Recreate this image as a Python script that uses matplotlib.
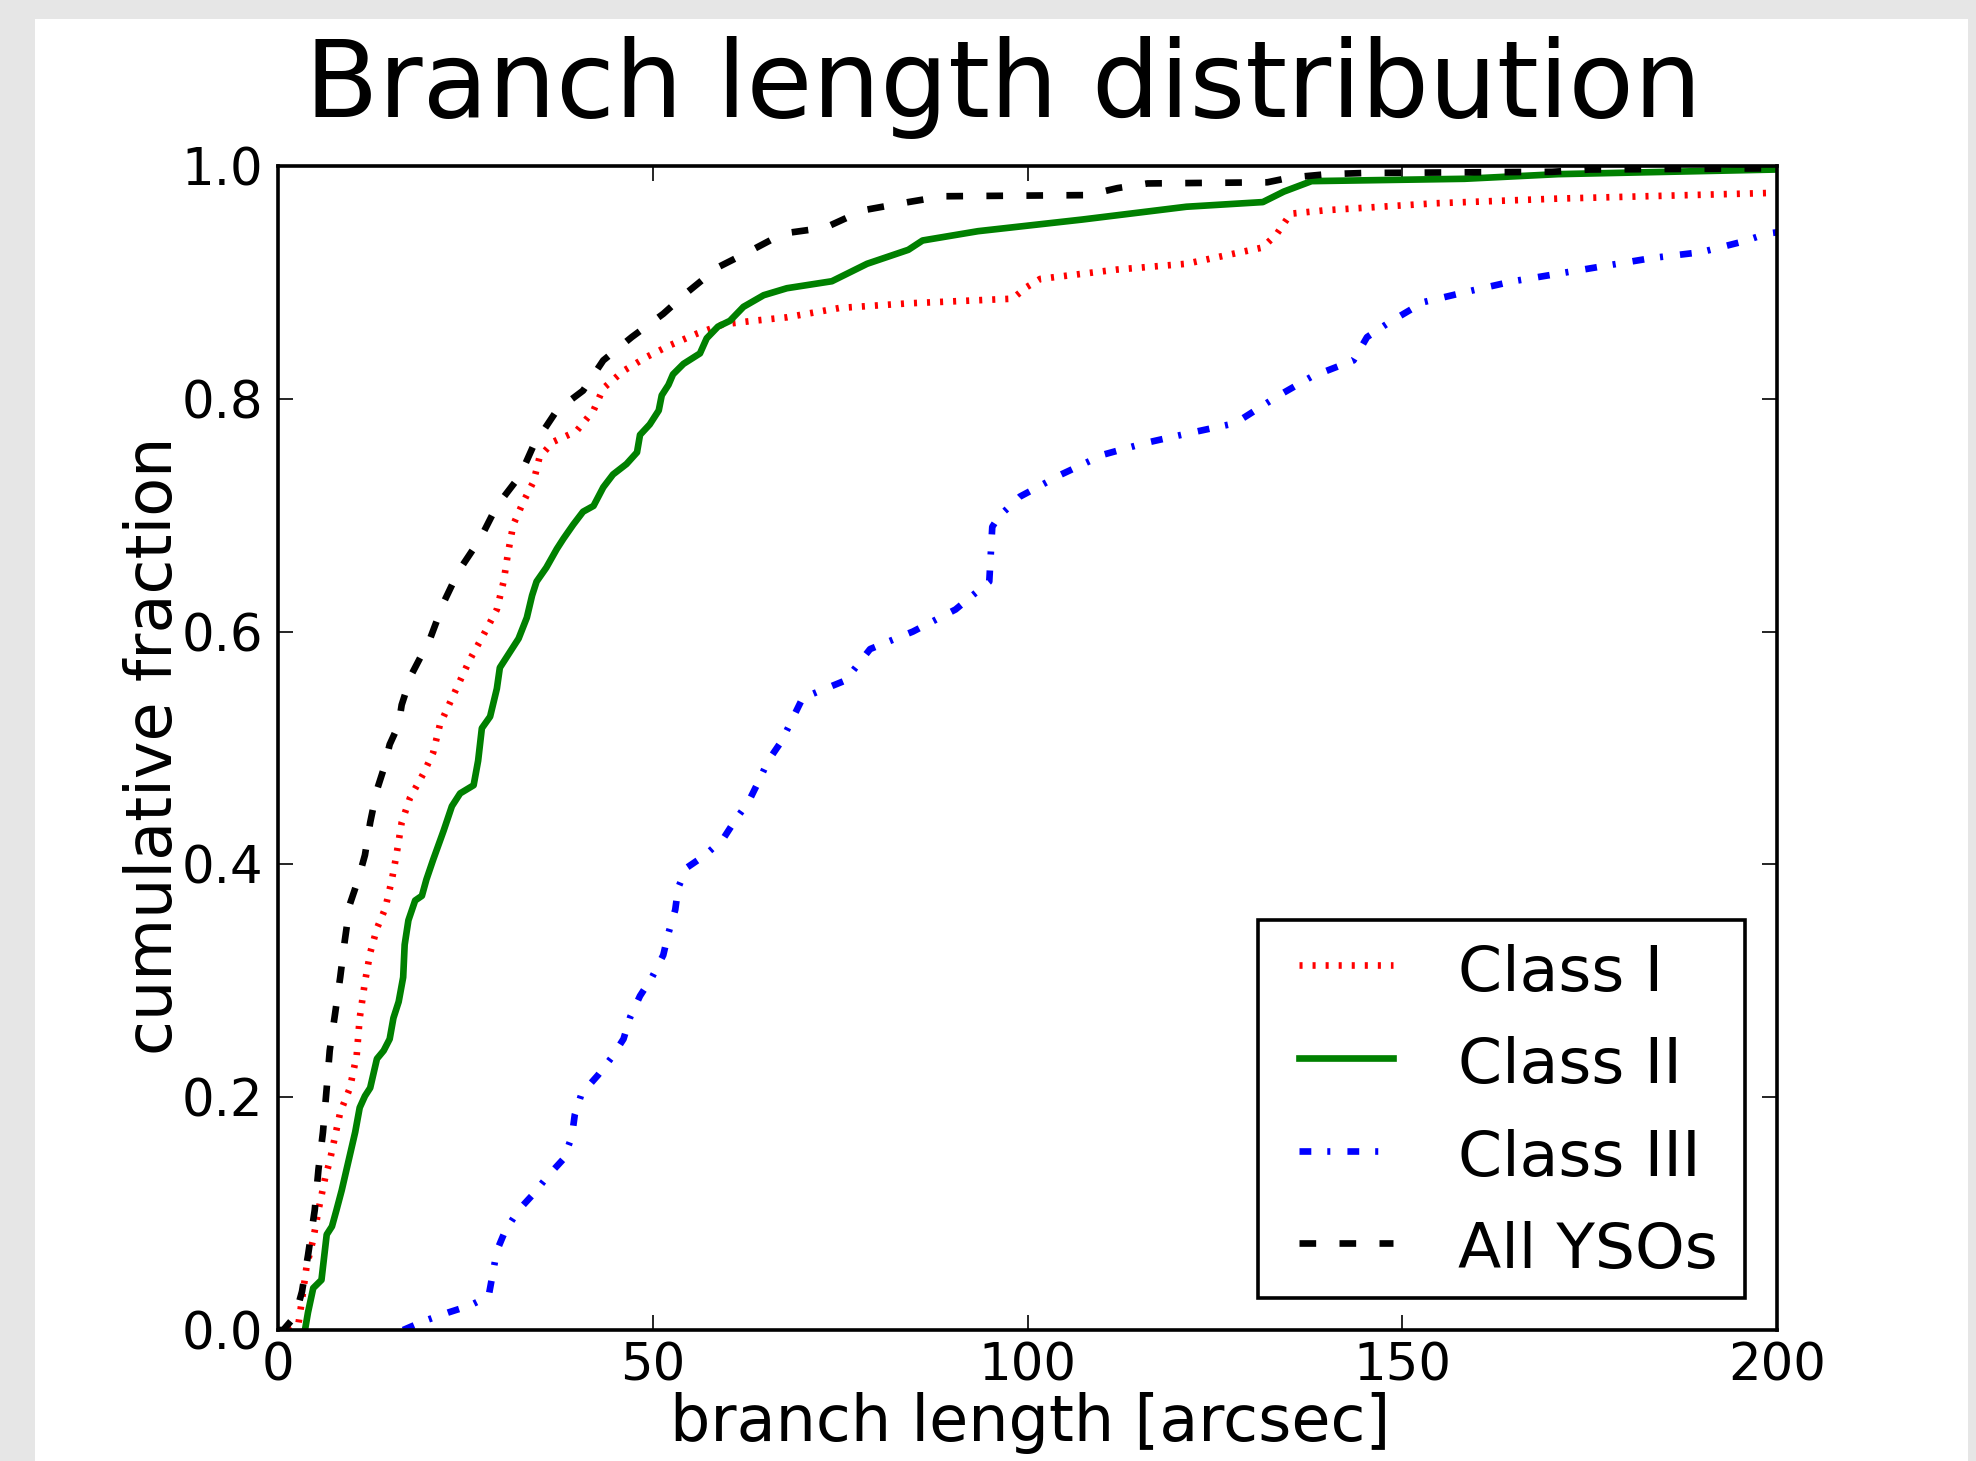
import matplotlib
matplotlib.use("Agg")
import matplotlib.pyplot as plt
from matplotlib.patches import Rectangle
from matplotlib.lines import Line2D
from matplotlib.legend_handler import HandlerLine2D

# ---------------- data ----------------
title_text = "Branch length distribution"
xlabel_text = "branch length [arcsec]"
ylabel_text = "cumulative fraction"
series_labels = ["Class I", "Class II", "Class III", "All YSOs"]
xticks = [0, 50, 100, 150, 200]
yticks = [0.0, 0.2, 0.4, 0.6, 0.8, 1.0]

class1_x = [1.5, 2.7, 3.2, 3.8, 4.7, 5.4, 6.3, 6.9, 7.6, 8.3, 9.6, 10.5, 10.9, 11.6, 12.3,
            13.2, 14.3, 15.2, 15.8, 16.5, 17.6, 19.4, 20.7, 21.6, 23.8, 25.6, 27.4, 29.2,
            30.1, 30.7, 31.4, 32.7, 34.1, 34.9, 36.7, 39.8, 42.1, 43.4, 46.1, 49.2, 52.3,
            55.9, 59.4, 63.4, 67.9, 74.9, 84.1, 98.0, 99.9, 101.7, 111.9, 121.2, 131.4,
            133.3, 135.1, 139.8, 154.5, 170.8, 200]
class1_y = [0.0, 0.004, 0.026, 0.054, 0.078, 0.103, 0.131, 0.145, 0.166, 0.187, 0.208, 0.236,
            0.268, 0.299, 0.324, 0.345, 0.362, 0.387, 0.408, 0.436, 0.457, 0.478, 0.496,
            0.520, 0.551, 0.576, 0.597, 0.619, 0.643, 0.668, 0.692, 0.711, 0.729, 0.750,
            0.763, 0.772, 0.790, 0.809, 0.824, 0.836, 0.846, 0.856, 0.864, 0.867, 0.870,
            0.878, 0.882, 0.886, 0.896, 0.903, 0.911, 0.916, 0.930, 0.942, 0.959, 0.962,
            0.968, 0.972, 0.977]

class2_x = [3.6, 4.0, 4.7, 5.8, 6.5, 7.2, 7.8, 8.5, 9.4, 10.3, 10.9, 11.6, 12.3, 13.2, 14.1,
            14.9, 15.4, 16.1, 16.7, 16.9, 17.4, 18.3, 19.2, 19.8, 20.7, 22.1, 23.2, 24.3,
            26.1, 26.7, 27.2, 28.3, 29.2, 29.6, 30.9, 32.1, 33.2, 33.9, 34.5, 35.8, 37.2,
            38.1, 39.4, 40.7, 42.1, 43.4, 44.7, 46.5, 47.9, 48.3, 49.6, 50.8, 51.2, 52.1,
            52.7, 54.1, 56.3, 57.2, 58.7, 60.3, 62.1, 64.8, 67.9, 73.9, 78.6, 84.1, 86.0,
            93.4, 107.3, 121.2, 131.4, 134.2, 137.9, 158.3, 170.8, 200]
class2_y = [0.0, 0.015, 0.036, 0.043, 0.082, 0.089, 0.103, 0.120, 0.145, 0.170, 0.191, 0.201,
            0.208, 0.233, 0.240, 0.250, 0.268, 0.282, 0.303, 0.331, 0.352, 0.369, 0.373,
            0.387, 0.404, 0.429, 0.450, 0.461, 0.468, 0.489, 0.517, 0.527, 0.551, 0.569,
            0.582, 0.594, 0.612, 0.631, 0.643, 0.655, 0.671, 0.680, 0.692, 0.703, 0.708,
            0.724, 0.735, 0.744, 0.754, 0.769, 0.778, 0.790, 0.803, 0.812, 0.821, 0.830,
            0.839, 0.852, 0.862, 0.867, 0.879, 0.889, 0.895, 0.901, 0.916, 0.928, 0.936,
            0.944, 0.954, 0.965, 0.969, 0.978, 0.987, 0.989, 0.993, 0.997]

class3_x = [16.7, 19.6, 22.7, 25.6, 28.1, 28.7, 29.2, 30.3, 32.1, 34.1, 36.1, 38.1, 39.2,
            39.6, 40.5, 42.7, 44.5, 46.1, 47.0, 48.3, 49.9, 51.4, 52.1, 53.0, 53.4, 54.5,
            57.0, 59.4, 61.0, 62.8, 64.1, 65.4, 67.2, 70.0, 75.7, 79.0, 84.7, 90.4, 94.9,
            95.3, 96.2, 99.0, 104.5, 110.1, 115.7, 121.2, 127.7, 133.3, 137.9, 143.5, 145.3,
            148.1, 152.8, 159.3, 164.8, 171.3, 177.8, 183.4, 189.9, 195.4, 198.7, 200]
class3_y = [0.0, 0.008, 0.015, 0.021, 0.029, 0.050, 0.068, 0.085, 0.103, 0.117, 0.133, 0.147,
            0.166, 0.185, 0.203, 0.219, 0.234, 0.250, 0.269, 0.287, 0.303, 0.322, 0.341,
            0.361, 0.380, 0.397, 0.408, 0.422, 0.438, 0.454, 0.471, 0.489, 0.506, 0.543,
            0.558, 0.585, 0.600, 0.619, 0.643, 0.690, 0.699, 0.716, 0.735, 0.752, 0.762,
            0.770, 0.779, 0.802, 0.819, 0.833, 0.853, 0.865, 0.883, 0.893, 0.901, 0.908,
            0.915, 0.921, 0.926, 0.935, 0.942, 0.943]

all_x = [0, 0.7, 2.3, 3.2, 4.0, 4.9, 5.4, 6.0, 6.5, 6.9, 7.6, 8.3, 8.9, 9.6, 10.7, 11.6, 12.3,
         13.2, 14.1, 14.9, 16.1, 16.5, 17.8, 20.3, 22.1, 24.1, 27.0, 29.2, 32.3, 34.1, 37.2,
         40.7, 43.4, 47.2, 51.4, 54.7, 58.7, 63.0, 67.4, 73.0, 78.1, 84.1, 88.7, 108.0,
         112.0, 116.0, 132.0, 135.0, 140.0, 145.0, 170.0, 175.0, 200.0, 210.0]
all_y = [0.0, 0.0, 0.012, 0.033, 0.064, 0.103, 0.138, 0.170, 0.208, 0.240, 0.271, 0.303,
         0.334, 0.366, 0.387, 0.408, 0.436, 0.464, 0.482, 0.503, 0.520, 0.537, 0.563, 0.594,
         0.625, 0.652, 0.680, 0.708, 0.734, 0.760, 0.790, 0.807, 0.833, 0.853, 0.873, 0.892,
         0.913, 0.927, 0.942, 0.947, 0.962, 0.969, 0.974, 0.975, 0.981, 0.985, 0.986, 0.990,
         0.993, 0.994, 0.995, 0.997, 0.998, 1.0]


class OffsetLineHandler(HandlerLine2D):
    """Legend line handler that leaves an empty gap at the left of the handle box."""

    def __init__(self, left_gap_em, **kw):
        super().__init__(**kw)
        self.left_gap_em = left_gap_em

    def get_xdata(self, legend, xdescent, ydescent, width, height, fontsize):
        xdata, xmark = super().get_xdata(legend, xdescent, ydescent, width, height, fontsize)
        gap = self.left_gap_em * fontsize
        return [-xdescent + gap, -xdescent + width], xmark


# ---------------- figure ----------------
plt.rcParams["lines.scale_dashes"] = False
plt.rcParams["font.family"] = ["DejaVu Sans"]

W, H = 1976, 1461
fig = plt.figure(figsize=(W / 100, H / 100), dpi=100, facecolor="#e6e6e6")
panel = Rectangle((35 / W, 0), (1968 - 35) / W, (H - 19) / H,
                  transform=fig.transFigure, facecolor="white", edgecolor="none",
                  zorder=-10)
fig.add_artist(panel)

ax_l, ax_r, ax_t, ax_b = 278, 1777, 166, 1330
ax = fig.add_axes([ax_l / W, (H - ax_b) / H, (ax_r - ax_l) / W, (ax_b - ax_t) / H])
ax.set_zorder(1)
ax.set_facecolor("white")

lw = 4.8
ax.plot(class1_x, class1_y, color="red", lw=lw, dashes=(2.2, 7.2), label=series_labels[0])
ax.plot(class2_x, class2_y, color="green", lw=lw, label=series_labels[1])
ax.plot(class3_x, class3_y, color="blue", lw=lw, dashes=(8.5, 11.5, 2.2, 12.3),
        label=series_labels[2])
ax.plot(all_x, all_y, color="black", lw=lw, dashes=(12, 16.8), label=series_labels[3])

ax.set_xlim(0, 200)
ax.set_ylim(0, 1.0)
ax.set_xticks(xticks)
ax.set_yticks(yticks)
ax.set_yticklabels([f"{v:.1f}" for v in yticks])
for s in ax.spines.values():
    s.set_linewidth(2.6)
ax.tick_params(direction="in", top=True, right=True, length=10.8, width=1.2,
               labelsize=37)
ax.tick_params(axis="x", pad=8.3)
ax.tick_params(axis="y", pad=10.8)

fig.text(1003 / W, 1 - 117 / H, title_text, ha="center", va="baseline", fontsize=77)
fig.text(1030 / W, 1 - 1423 / H, xlabel_text, ha="center", va="center", fontsize=45.8)
fig.text(154 / W, 1 - 746 / H, ylabel_text, ha="center", va="center", rotation=90,
         fontsize=45.8)

leg = ax.legend(loc="lower right", fontsize=45.5, handlelength=1.815, handletextpad=1.144,
                labelspacing=0.515, borderpad=0.32, borderaxespad=0.5, fancybox=False,
                framealpha=1, edgecolor="black",
                handler_map={Line2D: OffsetLineHandler(0.33)})
leg.get_frame().set_linewidth(2.6)
for t in leg.get_texts():
    t.set_x(-7)
    t.set_y(-3)

fig.savefig("out.png", dpi=100, facecolor=fig.get_facecolor())
